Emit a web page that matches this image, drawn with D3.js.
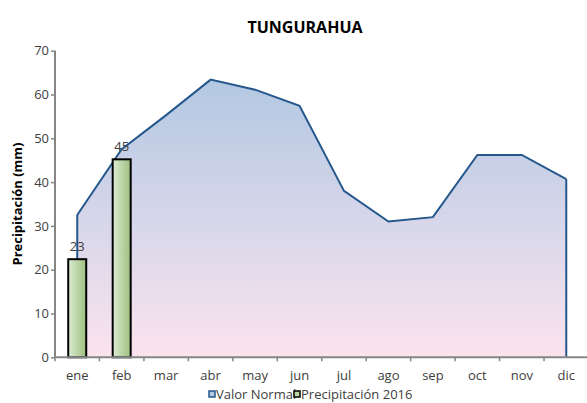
<!DOCTYPE html>
<html><head><meta charset="utf-8">
<script src="https://cdn.jsdelivr.net/npm/d3@7"></script>
<style>
body{margin:0;background:#fff;}
text{font-family:"Open Sans","DejaVu Sans",sans-serif;}
</style></head>
<body><svg id="c" width="587" height="403"></svg>
<script>
const months = ["ene","feb","mar","abr","may","jun","jul","ago","sep","oct","nov","dic"];
const valorNormal = [32.5,47.5,55.3,63.4,61.1,57.4,38.0,31.0,32.0,46.2,46.2,40.7];
const precip2016 = [22.4,45.2,null,null,null,null,null,null,null,null,null,null];
const precipLabels = ["23","45"];
const yTicks = [0,10,20,30,40,50,60,70];
const title = "TUNGURAHUA";
const yTitle = "Precipitación (mm)";
const seriesNames = ["Valor Normal","Precipitación 2016"];

const svg = d3.select("#c");
const x0 = 55, x1 = 588.5, yTop = 50.7, yBot = 357.3;
const x = d3.scaleBand().domain(months).range([x0, x1]).paddingInner(0).paddingOuter(0);
const y = d3.scaleLinear().domain([0,70]).range([yBot, yTop]);
const cx = m => x(m) + x.bandwidth()/2;

const defs = svg.append("defs");
const ag = defs.append("linearGradient").attr("id","ag").attr("x1",0).attr("y1",0).attr("x2",0).attr("y2",1);
ag.append("stop").attr("offset","0%").attr("stop-color","#b3c8e2");
ag.append("stop").attr("offset","50%").attr("stop-color","#d6d6ea");
ag.append("stop").attr("offset","100%").attr("stop-color","#fbe3ee");
const bg = defs.append("linearGradient").attr("id","bg").attr("x1",0).attr("y1",0).attr("x2",1).attr("y2",0);
bg.append("stop").attr("offset","0%").attr("stop-color","#dcecd2");
bg.append("stop").attr("offset","100%").attr("stop-color","#9dbf7e");

// area
const data = months.map((m,i)=>({m, v:valorNormal[i]}));
svg.append("path").datum(data)
  .attr("d", d3.area().x(d=>cx(d.m)).y0(yBot).y1(d=>y(d.v)))
  .attr("fill","url(#ag)").attr("stroke","none");
svg.append("path").datum(data)
  .attr("d", d3.line().x(d=>cx(d.m)).y(d=>y(d.v)))
  .attr("fill","none").attr("stroke","#24578b").attr("stroke-width",2);
svg.append("line").attr("x1",cx(months[0])).attr("x2",cx(months[0]))
  .attr("y1",y(valorNormal[0])).attr("y2",yBot).attr("stroke","#24578b").attr("stroke-width",2);
svg.append("line").attr("x1",cx(months[11])).attr("x2",cx(months[11]))
  .attr("y1",y(valorNormal[11])).attr("y2",yBot).attr("stroke","#24578b").attr("stroke-width",2);

// bars
const bw = 18;
const bars = months.map((m,i)=>({m, v:precip2016[i]})).filter(d=>d.v!=null);
svg.selectAll("rect.bar").data(bars).enter().append("rect")
  .attr("x", d=>cx(d.m)-bw/2).attr("width",bw)
  .attr("y", d=>y(d.v)).attr("height", d=>yBot-y(d.v))
  .attr("fill","url(#bg)").attr("stroke","#000").attr("stroke-width",2);
svg.selectAll("text.bl").data(bars).enter().append("text")
  .attr("x", d=>cx(d.m)).attr("y", d=>y(d.v)-8)
  .attr("text-anchor","middle").attr("font-size",13).attr("fill","#404040")
  .text((d,i)=>precipLabels[i]);

// axes
const gx = svg.append("g").attr("transform",`translate(0,${yBot})`)
  .call(d3.axisBottom(x).tickSize(4).tickFormat(d=>d));
gx.select(".domain").attr("stroke","#868686").attr("stroke-width",2).attr("d",`M${x0},0H${x1}`);
gx.selectAll(".tick line").attr("stroke","#868686").attr("stroke-width",1.5)
  .attr("transform",`translate(${-x.bandwidth()/2},0)`);
gx.selectAll(".tick text").attr("font-size",13).attr("fill","#404040").attr("y",8).attr("dy","1.1em")
  .style("font-family",'"Open Sans",sans-serif');

const gy = svg.append("g").attr("transform",`translate(${x0},0)`)
  .call(d3.axisLeft(y).tickValues(yTicks).tickSize(4));
gy.select(".domain").attr("stroke","#868686").attr("stroke-width",2).attr("d",`M0,${yTop}V${yBot}`);
gy.selectAll(".tick line").attr("stroke","#868686").attr("stroke-width",1.5);
gy.selectAll(".tick text").attr("font-size",13).attr("fill","#404040").attr("x",-6)
  .style("font-family",'"Open Sans",sans-serif');

// title
svg.append("text").attr("x",305).attr("y",33).attr("text-anchor","middle")
  .attr("font-size",16).attr("font-weight","bold").attr("fill","#000").text(title);
svg.append("text").attr("transform","translate(22,204) rotate(-90)").attr("text-anchor","middle")
  .attr("font-size",13).attr("font-weight","bold").attr("fill","#000").text(yTitle);

// legend
const lg = svg.append("g");
lg.append("rect").attr("x",209).attr("y",391).attr("width",6).attr("height",6)
  .attr("fill","#b3c8e2").attr("stroke","#24578b").attr("stroke-width",1.5);
lg.append("text").attr("x",216).attr("y",399).attr("font-size",13).attr("fill","#404040").text(seriesNames[0]);
lg.append("rect").attr("x",294).attr("y",391).attr("width",6).attr("height",6)
  .attr("fill","#bcd7a6").attr("stroke","#000").attr("stroke-width",1.5);
lg.append("text").attr("x",301).attr("y",399).attr("font-size",13).attr("fill","#404040").text(seriesNames[1]);
</script></body></html>
